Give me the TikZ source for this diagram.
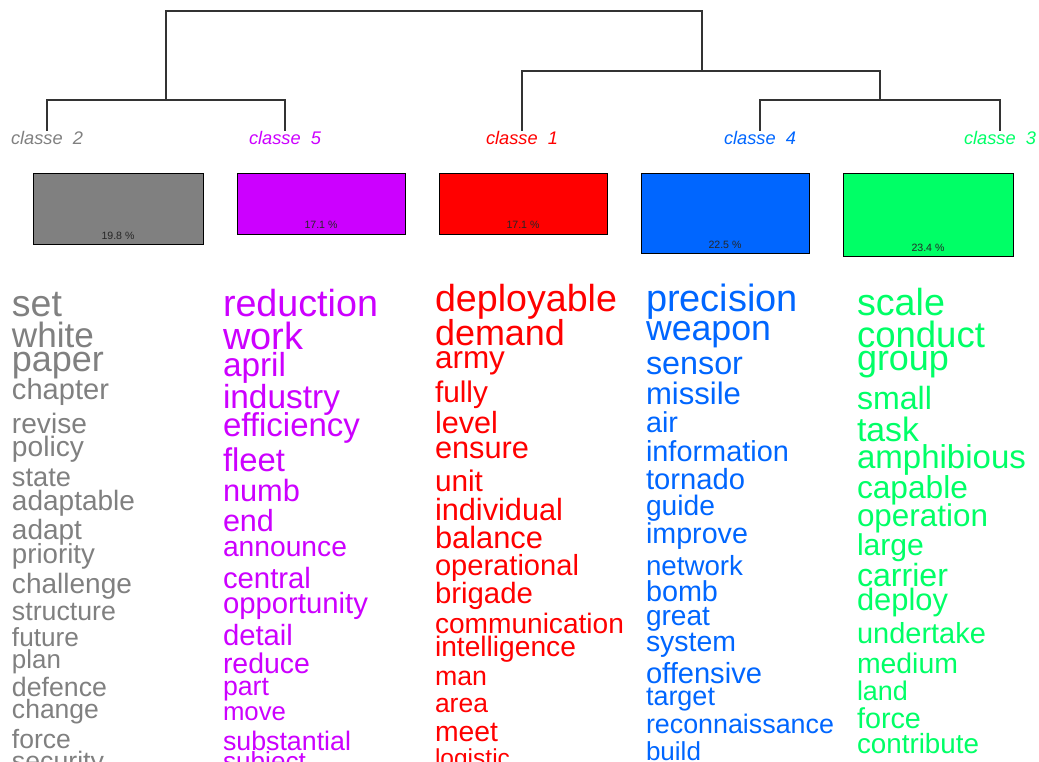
\documentclass[tikz,border=0pt]{standalone}
\usepackage{fontspec}
\setmainfont{Liberation Sans}
\newlength\wlen
\newcommand\fitw[2]{\settowidth\wlen{\fontsize{10pt}{12pt}\selectfont #2}\pgfmathsetmacro\fsz{10*#1/\wlen}\fontsize{\fsz pt}{\fsz pt}\selectfont #2}
\definecolor{cgray}{HTML}{808080}
\definecolor{cpurp}{HTML}{CC00FF}
\definecolor{cred}{HTML}{FF0000}
\definecolor{cblue}{HTML}{0066FF}
\definecolor{cgreen}{HTML}{00FF66}
\definecolor{tree}{HTML}{333333}
\tikzset{
  word/.style={anchor=base west, inner sep=0pt, outer sep=0pt},
  lab/.style={anchor=base, inner sep=0pt, outer sep=0pt, font=\itshape},
  bar/.style={draw=black, line width=1pt, anchor=north west, inner sep=0pt, outer sep=0pt, rectangle},
  pct/.style={anchor=base, inner sep=0pt, text=black!85},
  branch/.style={draw=tree, line width=1.3pt},
}
\begin{document}
\begin{tikzpicture}[x=1pt,y=-1pt]
\useasboundingbox (0,0) rectangle (1039,762);
\clip (0,0) rectangle (1039,762);
% dendrogram
\coordinate (c2) at (47,131);
\coordinate (c5) at (285,131);
\coordinate (c1) at (522,131);
\coordinate (c4) at (760,131);
\coordinate (c3) at (1000,131);
\coordinate (jA) at (166,100);
\coordinate (jB) at (702,71);
\coordinate (jC) at (880,100);
\coordinate (root) at (434,11);
\draw[branch] (c2) |- (jA) -| (c5);
\draw[branch] (jA) |- (root) -| (jB);
\draw[branch] (c1) |- (jB) -| (jC);
\draw[branch] (c4) |- (jC) -| (c3);
% class labels
\node[lab, text=cgray]  (l2) at (47,145)  {\fitw{72}{classe\ \ 2}};
\node[lab, text=cpurp]  (l5) at (285,145) {\fitw{72}{classe\ \ 5}};
\node[lab, text=cred]   (l1) at (522,145) {\fitw{72}{classe\ \ 1}};
\node[lab, text=cblue]  (l4) at (760,145) {\fitw{72}{classe\ \ 4}};
\node[lab, text=cgreen] (l3) at (1000,145) {\fitw{72}{classe\ \ 3}};
% bars
\node[bar, fill=cgray,  minimum width=170pt, minimum height=71pt] (b2) at (33,174) {};
\node[bar, fill=cpurp,  minimum width=168pt, minimum height=61pt] (b5) at (237,174) {};
\node[bar, fill=cred,   minimum width=168pt, minimum height=61pt] (b1) at (439,174) {};
\node[bar, fill=cblue,  minimum width=168pt, minimum height=80pt] (b4) at (641,174) {};
\node[bar, fill=cgreen, minimum width=170pt, minimum height=83pt] (b3) at (843,174) {};
\node[pct] (p2) at (118,240) {\fitw{33}{19.8 \%}};
\node[pct] (p5) at (321,229) {\fitw{33}{17.1 \%}};
\node[pct] (p1) at (523,229) {\fitw{33}{17.1 \%}};
\node[pct] (p4) at (725,248) {\fitw{33}{22.5 \%}};
\node[pct] (p3) at (928,251.5) {\fitw{33}{23.4 \%}};
% classe 2 words
\begin{scope}[every node/.append style={word, text=cgray}]
\node (g1) at (12,316) {\fitw{50}{set}};
\node (g2) at (12,347) {\fitw{82}{white}};
\node (g3) at (12,371) {\fitw{92}{paper}};
\node (g4) at (12,399) {\fitw{97}{chapter}};
\node (g5) at (12,433) {\fitw{75}{revise}};
\node (g6) at (12,456) {\fitw{72}{policy}};
\node (g7) at (12,486.5) {\fitw{59}{state}};
\node (g8) at (12,510.5) {\fitw{123}{adaptable}};
\node (g9) at (12,539) {\fitw{70}{adapt}};
\node (g10) at (12,563) {\fitw{83}{priority}};
\node (g11) at (12,593) {\fitw{120}{challenge}};
\node (g12) at (12,620.5) {\fitw{104}{structure}};
\node (g13) at (12,646.5) {\fitw{67}{future}};
\node (g14) at (12,668) {\fitw{49}{plan}};
\node (g15) at (12,696.5) {\fitw{95}{defence}};
\node (g16) at (12,718) {\fitw{87}{change}};
\node (g17) at (12,748) {\fitw{59}{force}};
\node (g18) at (12,770) {\fitw{92}{security}};
\end{scope}
% classe 5 words
\begin{scope}[every node/.append style={word, text=cpurp}]
\node (v1) at (223,316) {\fitw{155}{reduction}};
\node (v2) at (223,349) {\fitw{80}{work}};
\node (v3) at (223,376.5) {\fitw{63}{april}};
\node (v4) at (223,408) {\fitw{117}{industry}};
\node (v5) at (223,436.5) {\fitw{137}{efficiency}};
\node (v6) at (223,471.5) {\fitw{62}{fleet}};
\node (v7) at (223,501.5) {\fitw{77}{numb}};
\node (v8) at (223,531.5) {\fitw{51}{end}};
\node (v9) at (223,556) {\fitw{124}{announce}};
\node (v10) at (223,588) {\fitw{88}{central}};
\node (v11) at (223,613) {\fitw{145}{opportunity}};
\node (v12) at (223,645.5) {\fitw{70}{detail}};
\node (v13) at (223,673) {\fitw{87}{reduce}};
\node (v14) at (223,695) {\fitw{46}{part}};
\node (v15) at (223,720.5) {\fitw{63}{move}};
\node (v16) at (223,750) {\fitw{128}{substantial}};
\node (v17) at (223,770) {\fitw{83}{subject}};
\end{scope}
% classe 1 words
\begin{scope}[every node/.append style={word, text=cred}]
\node (r1) at (435,311) {\fitw{182}{deployable}};
\node (r2) at (435,345.5) {\fitw{130}{demand}};
\node (r3) at (435,368.5) {\fitw{70}{army}};
\node (r4) at (435,402) {\fitw{53}{fully}};
\node (r5) at (435,433.5) {\fitw{63}{level}};
\node (r6) at (435,458.5) {\fitw{94}{ensure}};
\node (r7) at (435,491.5) {\fitw{48}{unit}};
\node (r8) at (435,520) {\fitw{128}{individual}};
\node (r9) at (435,548) {\fitw{108}{balance}};
\node (r10) at (435,575) {\fitw{144}{operational}};
\node (r11) at (435,603) {\fitw{98}{brigade}};
\node (r12) at (435,633) {\fitw{189}{communication}};
\node (r13) at (435,656.5) {\fitw{141}{intelligence}};
\node (r14) at (435,685) {\fitw{52}{man}};
\node (r15) at (435,712) {\fitw{53}{area}};
\node (r16) at (435,741.5) {\fitw{63}{meet}};
\node (r17) at (435,766) {\fitw{75}{logistic}};
\end{scope}
% classe 4 words
\begin{scope}[every node/.append style={word, text=cblue}]
\node (u1) at (646,311.5) {\fitw{152}{precision}};
\node (u2) at (646,340) {\fitw{125}{weapon}};
\node (u3) at (646,374) {\fitw{97}{sensor}};
\node (u4) at (646,404) {\fitw{95}{missile}};
\node (u5) at (646,432.5) {\fitw{32}{air}};
\node (u6) at (646,461.5) {\fitw{143}{information}};
\node (u7) at (646,489) {\fitw{99}{tornado}};
\node (u8) at (646,515) {\fitw{69}{guide}};
\node (u9) at (646,543) {\fitw{102}{improve}};
\node (u10) at (646,575) {\fitw{97}{network}};
\node (u11) at (646,601.5) {\fitw{72}{bomb}};
\node (u12) at (646,625) {\fitw{64}{great}};
\node (u13) at (646,651.5) {\fitw{90}{system}};
\node (u14) at (646,683) {\fitw{116}{offensive}};
\node (u15) at (646,705) {\fitw{69}{target}};
\node (u16) at (646,733) {\fitw{188}{reconnaissance}};
\node (u17) at (646,760) {\fitw{55}{build}};
\end{scope}
% classe 3 words
\begin{scope}[every node/.append style={word, text=cgreen}]
\node (k1) at (857,315.5) {\fitw{88}{scale}};
\node (k2) at (857,347) {\fitw{128}{conduct}};
\node (k3) at (857,370) {\fitw{92}{group}};
\node (k4) at (857,409.5) {\fitw{75}{small}};
\node (k5) at (857,441.5) {\fitw{62}{task}};
\node (k6) at (857,468.3) {\fitw{169}{amphibious}};
\node (k7) at (857,498.3) {\fitw{111}{capable}};
\node (k8) at (857,526.7) {\fitw{131}{operation}};
\node (k9) at (857,555) {\fitw{67}{large}};
\node (k10) at (857,586.7) {\fitw{91}{carrier}};
\node (k11) at (857,610) {\fitw{91}{deploy}};
\node (k12) at (857,643.3) {\fitw{129}{undertake}};
\node (k13) at (857,673.3) {\fitw{101}{medium}};
\node (k14) at (857,700.7) {\fitw{51}{land}};
\node (k15) at (857,728.3) {\fitw{64}{force}};
\node (k16) at (857,753.3) {\fitw{122}{contribute}};
\end{scope}
\end{tikzpicture}
\end{document}
